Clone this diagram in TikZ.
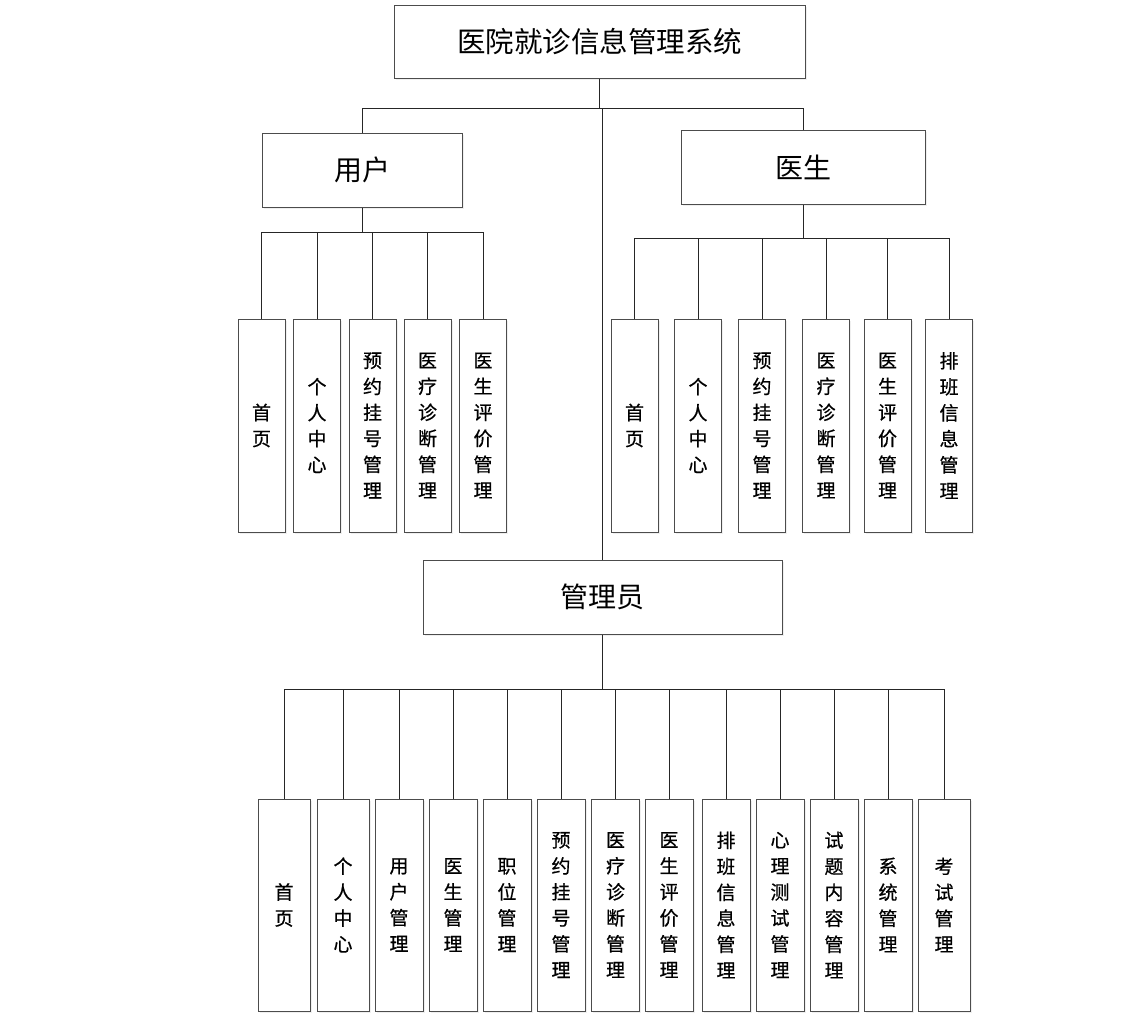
\documentclass[tikz,border=0pt]{standalone}
\usepackage{fontspec}
\newfontfamily\cjk{Noto Sans CJK SC}
\newfontfamily\cjkb[FakeBold=0.6]{Noto Sans CJK SC}
\usetikzlibrary{shadows}
\begin{document}
\begin{tikzpicture}[x=1pt,y=-1pt,
  box/.style={draw=black!70,line width=1pt,fill=white,rectangle,inner sep=0pt,
    drop shadow={shadow xshift=1.5pt,shadow yshift=-1.5pt,fill=black!12}},
  bigbox/.style={box,font=\cjk\fontsize{28}{30}\selectfont},
  leaf/.style={box,minimum width=47,minimum height=213,align=center,
    font=\cjkb\fontsize{19}{26}\selectfont},
  aleaf/.style={box,minimum width=48,minimum height=212,align=center,
    font=\cjkb\fontsize{19}{26}\selectfont},
  conn/.style={draw=black!85,line width=1pt}]
\useasboundingbox (0,0) rectangle (1123,1017);

% top level
\node[bigbox,minimum width=411,minimum height=73,font=\cjk\fontsize{28.5}{30}\selectfont] (top) at (599.5,41.5) {医院就诊信息管理系统};
\node[bigbox,minimum width=200,minimum height=74] (user) at (362,170) {用户};
\node[bigbox,minimum width=244,minimum height=74] (doc) at (803,167) {医生};
\node[bigbox,minimum width=359,minimum height=74] (adm) at (602.5,597) {管理员};

\coordinate (j1) at (600,108);
\coordinate (ubus) at (362,232);
\coordinate (dbus) at (803,238);
\coordinate (abus) at (602.5,689);

% user leaves
\node[leaf] (u1) at (261.5,425.5) {首\\页};
\node[leaf] (u2) at (317,425.5) {个\\人\\中\\心};
\node[leaf] (u3) at (372.5,425.5) {预\\约\\挂\\号\\管\\理};
\node[leaf] (u4) at (427.5,425.5) {医\\疗\\诊\\断\\管\\理};
\node[leaf] (u5) at (483,425.5) {医\\生\\评\\价\\管\\理};

% doctor leaves
\node[leaf] (d1) at (634.5,425.5) {首\\页};
\node[leaf] (d2) at (698,425.5) {个\\人\\中\\心};
\node[leaf] (d3) at (762,425.5) {预\\约\\挂\\号\\管\\理};
\node[leaf] (d4) at (826,425.5) {医\\疗\\诊\\断\\管\\理};
\node[leaf] (d5) at (887.5,425.5) {医\\生\\评\\价\\管\\理};
\node[leaf] (d6) at (949,425.5) {排\\班\\信\\息\\管\\理};

% admin leaves
\node[aleaf,minimum width=52] (a1) at (284,905) {首\\页};
\node[aleaf,minimum width=52] (a2) at (343,905) {个\\人\\中\\心};
\node[aleaf] (a3) at (399,905) {用\\户\\管\\理};
\node[aleaf] (a4) at (453,905) {医\\生\\管\\理};
\node[aleaf] (a5) at (507,905) {职\\位\\管\\理};
\node[aleaf] (a6) at (561,905) {预\\约\\挂\\号\\管\\理};
\node[aleaf] (a7) at (615.5,905) {医\\疗\\诊\\断\\管\\理};
\node[aleaf] (a8) at (669,905) {医\\生\\评\\价\\管\\理};
\node[aleaf] (a9) at (726,905) {排\\班\\信\\息\\管\\理};
\node[aleaf] (a10) at (780,905) {心\\理\\测\\试\\管\\理};
\node[aleaf] (a11) at (834,905) {试\\题\\内\\容\\管\\理};
\node[aleaf] (a12) at (888,905) {系\\统\\管\\理};
\node[aleaf,minimum width=52] (a13) at (944,905) {考\\试\\管\\理};

% connectors
\draw[conn] (top.south) -- (top.south |- j1);
\draw[conn] (user.north) |- (j1);
\draw[conn] (doc.north) |- (j1);
\draw[conn] (adm.north) -- (adm.north |- j1);

\draw[conn] (user.south) -- (ubus);
\foreach \n in {u1,u2,u3,u4,u5} \draw[conn] (\n.north) |- (ubus);
\draw[conn] (doc.south) -- (dbus);
\foreach \n in {d1,d2,d3,d4,d5,d6} \draw[conn] (\n.north) |- (dbus);
\draw[conn] (adm.south) -- (abus);
\foreach \n in {a1,a2,a3,a4,a5,a6,a7,a8,a9,a10,a11,a12,a13} \draw[conn] (\n.north) |- (abus);
\end{tikzpicture}
\end{document}
